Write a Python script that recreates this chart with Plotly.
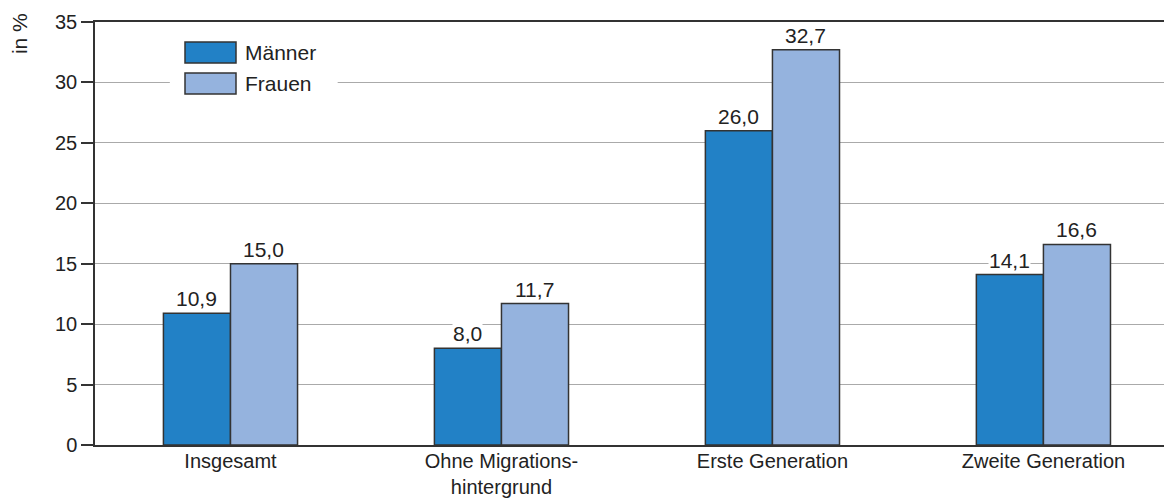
import plotly.graph_objects as go

categories = ["Insgesamt", "Ohne Migrations-<br>hintergrund", "Erste Generation", "Zweite Generation"]
maenner = [10.9, 8.0, 26.0, 14.1]
frauen = [15.0, 11.7, 32.7, 16.6]
series_names = ["Männer", "Frauen"]
colors = ["#2281C6", "#95B3DE"]
y_ticks = [0, 5, 10, 15, 20, 25, 30, 35]

FONT = "Liberation Sans, Arial, sans-serif"
TXT = "#222222"
FS = 21

T, B = 22, 55
PH = 500 - T - B

fig = go.Figure()
for name, vals, col in zip(series_names, [maenner, frauen], colors):
    fig.add_trace(go.Bar(
        name=name, x=list(range(len(categories))), y=vals,
        marker=dict(color=col, line=dict(color="#333333", width=1.5)),
        showlegend=False,
    ))

# value labels with white background (mask gridlines)
bar_px = 67
for k, vals in enumerate([maenner, frauen]):
    shift = (-0.5 + k) * bar_px
    for i, v in enumerate(vals):
        fig.add_annotation(
            x=i, y=v, xref="x", yref="y", xshift=shift, yshift=2,
            text=f"{v:.1f}".replace(".", ","), showarrow=False,
            yanchor="bottom", bgcolor="white", borderpad=0,
            font=dict(family=FONT, size=FS, color=TXT),
        )

# legend (manual, larger swatches)
fig.add_shape(type="rect", xref="paper", yref="paper", x0=0.070, x1=0.227,
              y0=1 - (104 - T) / PH, y1=1 - (36 - T) / PH,
              fillcolor="white", line=dict(width=0), layer="above")
for k, (name, col) in enumerate(zip(series_names, colors)):
    ytop = 42 + k * 31
    y0 = 1 - (ytop + 21 - T) / PH
    y1 = 1 - (ytop - T) / PH
    x0 = (185 - 95) / 1069
    x1 = (236 - 95) / 1069
    fig.add_shape(type="rect", xref="paper", yref="paper", x0=x0, x1=x1, y0=y0, y1=y1,
                  fillcolor=col, line=dict(color="#333333", width=1.5), layer="above")
    fig.add_annotation(xref="paper", yref="paper", x=(243 - 95) / 1069, y=(y0 + y1) / 2,
                       text=name, showarrow=False, xanchor="left", yanchor="middle",
                       font=dict(family=FONT, size=FS, color=TXT))

# y-axis title
fig.add_annotation(xref="paper", yref="paper", x=-0.07, y=1.025, text="in %", textangle=-90,
                   showarrow=False, xanchor="center", yanchor="top",
                   font=dict(family=FONT, size=FS, color=TXT))

fig.update_layout(
    width=1164, height=500,
    margin=dict(l=95, r=0, t=T, b=B),
    paper_bgcolor="white", plot_bgcolor="white",
    barmode="group", bargap=0.505, bargroupgap=0,
    font=dict(family=FONT, size=FS, color=TXT),
    xaxis=dict(
        range=[-0.5, 3.445], tickmode="array",
        tickvals=list(range(len(categories))), ticktext=categories,
        showline=True, linecolor="#333333", linewidth=1.5, mirror=True,
        showgrid=False, ticks="", zeroline=False, automargin=False,
        ticklabelstandoff=-3,
        tickfont=dict(family=FONT, size=20, color=TXT),
    ),
    yaxis=dict(
        range=[0, 35], tickvals=y_ticks,
        showline=True, linecolor="#333333", linewidth=1.5,
        showgrid=True, gridcolor="#AAAAAA", gridwidth=1,
        ticks="outside", ticklen=12, tickcolor="#333333", tickwidth=1.5,
        zeroline=False, automargin=False,
        tickfont=dict(family=FONT, size=20, color=TXT),
    ),
)

fig.write_html("out.html")
